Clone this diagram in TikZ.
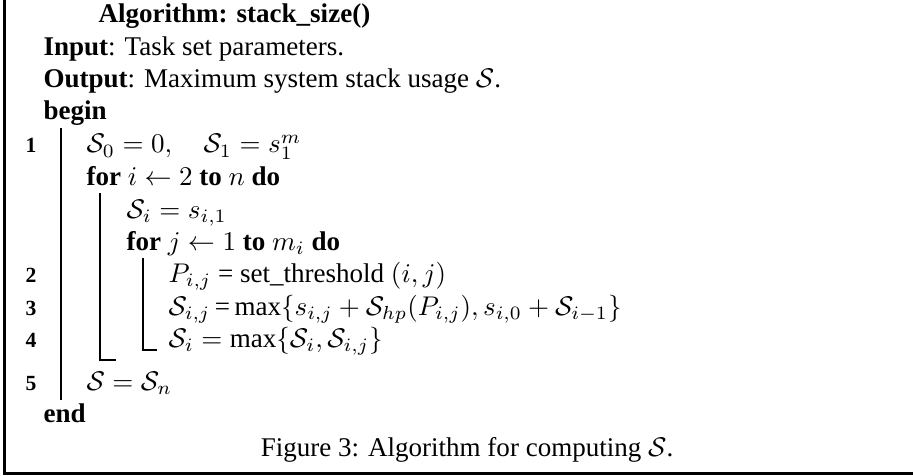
\documentclass[tikz,border=0pt]{standalone}
\usepackage{fontspec}
\setmainfont{Liberation Serif}
\begin{document}
\begin{tikzpicture}[x=0.37pt,y=-0.37pt,
  txt/.style={anchor=base west,inner sep=0pt,font=\fontsize{10}{12}\selectfont},
  num/.style={anchor=base,inner sep=0pt,font=\fontsize{8}{9}\selectfont\bfseries},
  thickbar/.style={line width=1.1pt},
  thinbar/.style={line width=0.8pt}]
\useasboundingbox (0,0) rectangle (913,475);
% frame
\coordinate (ftop) at (4.5,0);
\coordinate (fcorner) at (4.5,473.5);
\coordinate (fright) at (913,473.5);
\draw[thickbar] (ftop) -- (fcorner) -- (fright);
% text
\node[txt] (title) at (98,23) {\textbf{Algorithm: stack\_size()}};
\node[txt] (input) at (43,56) {\textbf{Input}: Task set parameters.};
\node[txt] (output) at (43,88) {\textbf{Output}: Maximum system stack usage $\mathcal{S}$.};
\node[txt] (begin) at (43,120) {\textbf{begin}};
\node[num] (n1) at (31,153) {1};
\node[txt] (l1) at (86,153) {$\mathcal{S}_0 = 0, \quad \mathcal{S}_1 = s_1^m$};
\node[txt] (fori) at (86,185) {\textbf{for} $i \leftarrow 2$ \textbf{to} $n$ \textbf{do}};
\node[txt] (si) at (126,218) {$\mathcal{S}_i = s_{i,1}$};
\node[txt] (forj) at (126,250) {\textbf{for} $j \leftarrow 1$ \textbf{to} $m_i$ \textbf{do}};
\node[num] (n2) at (31,282.6) {2};
\node[txt] (l2) at (168,282.6) {$P_{i,j}$ = set\_threshold $(i,j)$};
\node[num] (n3) at (31,315) {3};
\node[txt] (l3) at (168,315) {$\mathcal{S}_{i,j}$\,=\,$\max\{s_{i,j} + \mathcal{S}_{hp}(P_{i,j}), s_{i,0} + \mathcal{S}_{i-1}\}$};
\node[num] (n4) at (31,347.4) {4};
\node[txt] (l4) at (168,347.4) {$\mathcal{S}_i = \max\{\mathcal{S}_i, \mathcal{S}_{i,j}\}$};
\node[num] (n5) at (31,390) {5};
\node[txt] (l5) at (86,390) {$\mathcal{S} = \mathcal{S}_n$};
\node[txt] (endk) at (43,422) {\textbf{end}};
\node[anchor=base,inner sep=0pt,font=\fontsize{10}{12}\selectfont] (cap) at (467,456) {Figure 3: Algorithm for computing $\mathcal{S}$.};
% block bars
\coordinate (b1t) at (61,128);
\coordinate (b1b) at (61,400);
\draw[thickbar] (b1t) -- (b1b);
\coordinate (b2t) at (100,193);
\coordinate (b2b) at (100,360);
\coordinate (b2h) at (116,360);
\draw[thickbar] (b2t) -- (b2b) -- (b2h);
\coordinate (b3t) at (143,258);
\coordinate (b3b) at (143,350);
\coordinate (b3h) at (157,350);
\draw[thinbar] (b3t) -- (b3b) -- (b3h);
\end{tikzpicture}
\end{document}
